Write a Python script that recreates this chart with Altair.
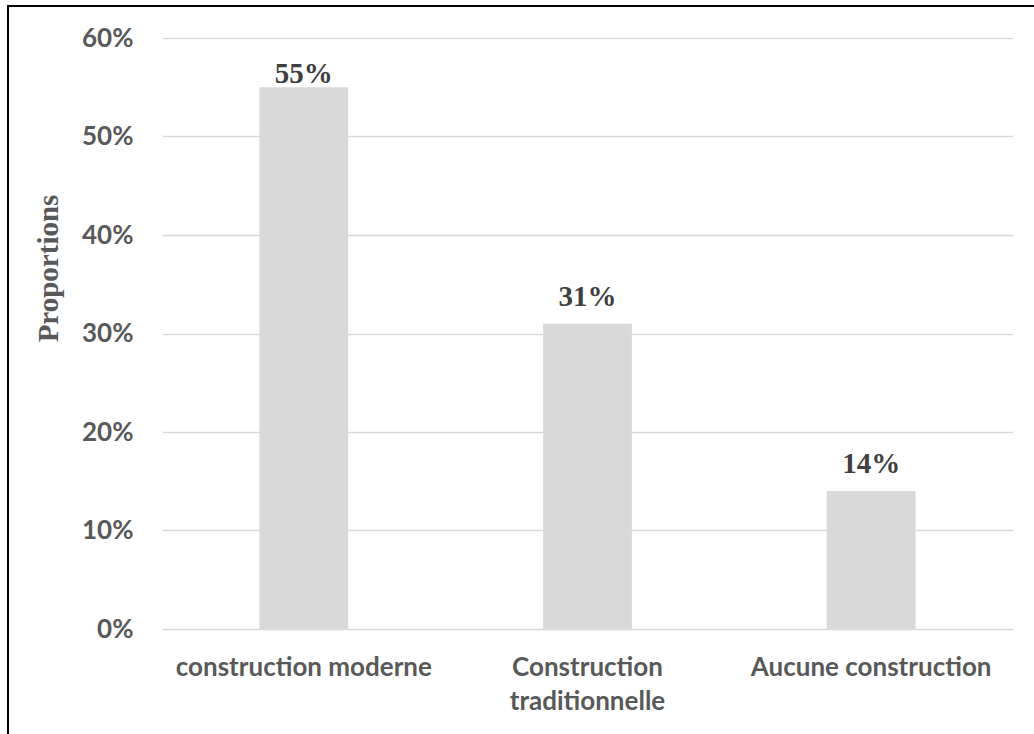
import altair as alt
import pandas as pd

categories = ["construction moderne", "Construction traditionnelle", "Aucune construction"]
proportions = [0.55, 0.31, 0.14]
y_ticks = [0, 0.1, 0.2, 0.3, 0.4, 0.5, 0.6]

df = pd.DataFrame({"cat": categories, "val": proportions})

LABEL_GRAY = "#595959"
BAR_GRAY = "#d9d9d9"
SERIF = "'Liberation Serif', 'Times New Roman', serif"

x_enc = alt.X(
    "cat:N",
    sort=categories,
    scale=alt.Scale(paddingInner=0.687, paddingOuter=0.3435),
    axis=alt.Axis(
        title=None,
        labelAngle=0,
        domain=False,
        ticks=False,
        grid=False,
        labelFont="Lato",
        labelFontWeight="bold",
        labelFontSize=26,
        labelColor=LABEL_GRAY,
        labelPadding=25,
        labelLineHeight=34,
        labelLimit=500,
        labelExpr="datum.label == 'Construction traditionnelle' ? split(datum.label, ' ') : datum.label",
    ),
)

y_enc = alt.Y(
    "val:Q",
    scale=alt.Scale(domain=[0, 0.6], nice=False),
    axis=alt.Axis(
        title="Proportions",
        values=y_ticks,
        format=".0%",
        domain=False,
        ticks=False,
        gridColor=BAR_GRAY,
        gridWidth=1.5,
        labelFont="Lato",
        labelFontWeight="bold",
        labelFontSize=26,
        labelColor=LABEL_GRAY,
        labelPadding=29,
        titleFont=SERIF,
        titleFontWeight="bold",
        titleFontSize=29,
        titleColor=LABEL_GRAY,
        titleAngle=270,
        titleAlign="center",
        titleBaseline="alphabetic",
        titleX=-105,
        titleY=230,
    ),
)

base = alt.Chart(df)

bars = base.mark_bar(color=BAR_GRAY).encode(x=x_enc, y=y_enc)

text_style = dict(
    font=SERIF,
    fontWeight="bold",
    fontSize=29,
    color="#404040",
    baseline="alphabetic",
    align="center",
)

labels_first = base.transform_filter(
    alt.datum.cat == categories[0]
).mark_text(dy=-4, **text_style).encode(
    x=alt.X("cat:N", sort=categories),
    y="val:Q",
    text=alt.Text("val:Q", format=".0%"),
)

labels_rest = base.transform_filter(
    alt.datum.cat != categories[0]
).mark_text(dy=-18, **text_style).encode(
    x=alt.X("cat:N", sort=categories),
    y="val:Q",
    text=alt.Text("val:Q", format=".0%"),
)

frame = alt.Chart(pd.DataFrame({"f": [0]})).mark_rect(
    fill=None, stroke="black", strokeWidth=2
).encode(
    x=alt.value(-154),
    x2=alt.value(900),
    y=alt.value(-32),
    y2=alt.value(720),
)

chart = alt.layer(frame, bars, labels_first, labels_rest).properties(
    width=851,
    height=591,
    padding={"left": 162, "top": 38, "right": 21, "bottom": 105},
    autosize="none",
    background="white",
).configure_view(strokeWidth=0, stroke="transparent")

chart.save("out.html", embed_options={"renderer": "svg", "actions": False})
